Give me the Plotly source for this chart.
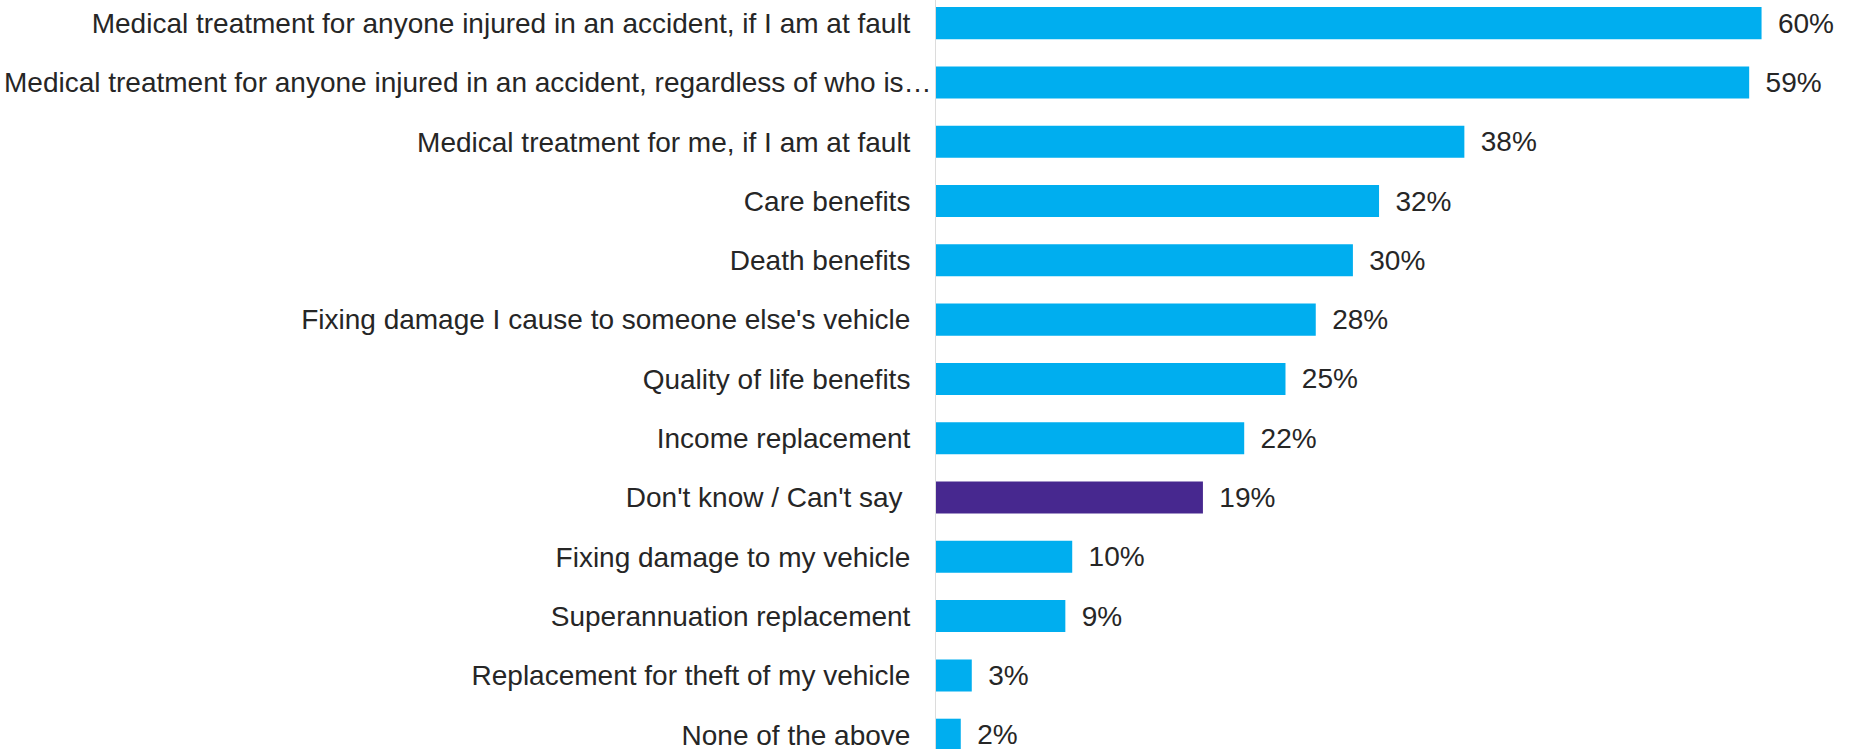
import plotly.graph_objects as go

categories = [
    "Medical treatment for anyone injured in an accident, if I am at fault",
    "Medical treatment for anyone injured in an accident, regardless of who is…",
    "Medical treatment for me, if I am at fault",
    "Care benefits",
    "Death benefits",
    "Fixing damage I cause to someone else's vehicle",
    "Quality of life benefits",
    "Income replacement",
    "Don't know / Can't say\u00a0",
    "Fixing damage to my vehicle",
    "Superannuation replacement",
    "Replacement for theft of my vehicle",
    "None of the above",
]
values = [60.0, 59.1, 38.4, 32.2, 30.3, 27.6, 25.4, 22.4, 19.4, 9.9, 9.4, 2.6, 1.8]
labels = ["60%", "59%", "38%", "32%", "30%", "28%", "25%", "22%", "19%", "10%", "9%", "3%", "2%"]

BLUE = "#00AEEF"
PURPLE = "#47288F"
colors = [PURPLE if c.startswith("Don't know") else BLUE for c in categories]
FONT = "Liberation Sans, Arial, sans-serif"
LONG = categories[1]

fig = go.Figure(go.Bar(
    y=categories,
    x=values,
    orientation="h",
    marker=dict(color=colors, line=dict(width=0)),
    text=["\u00a0\u2009" + t for t in labels],
    textposition="outside",
    textfont=dict(family=FONT, size=28, color="#262626"),
    cliponaxis=False,
    hoverinfo="skip",
))

# the over-long (truncated) label sits closer to the axis, as in the source
fig.add_annotation(
    x=0, y=LONG, xref="x", yref="y",
    text=LONG, showarrow=False, xanchor="right", xshift=-2,
    font=dict(family=FONT, size=28, color="#262626"),
)

fig.update_layout(
    width=1851,
    height=749,
    autosize=False,
    margin=dict(l=936, r=0, t=0, b=0, autoexpand=False),
    paper_bgcolor="white",
    plot_bgcolor="white",
    bargap=0.46,
    showlegend=False,
    font=dict(family=FONT, size=28, color="#262626"),
)
fig.update_xaxes(range=[0, 66.5], visible=False, showgrid=False, zeroline=False, automargin=False)
fig.update_yaxes(
    autorange=False,
    range=[12.241, -0.39],
    tickmode="array",
    tickvals=categories,
    ticktext=["" if c == LONG else c for c in categories],
    automargin=False,
    showline=True,
    linecolor="#DCDCDC",
    linewidth=1,
    showgrid=False,
    ticks="",
    ticklabelstandoff=19,
    tickfont=dict(family=FONT, size=28, color="#262626"),
)

fig.write_html(
    "out.html",
    config={"displayModeBar": False},
    post_script="document.body.style.margin='0';document.body.style.padding='0';document.body.style.overflow='hidden';",
)
